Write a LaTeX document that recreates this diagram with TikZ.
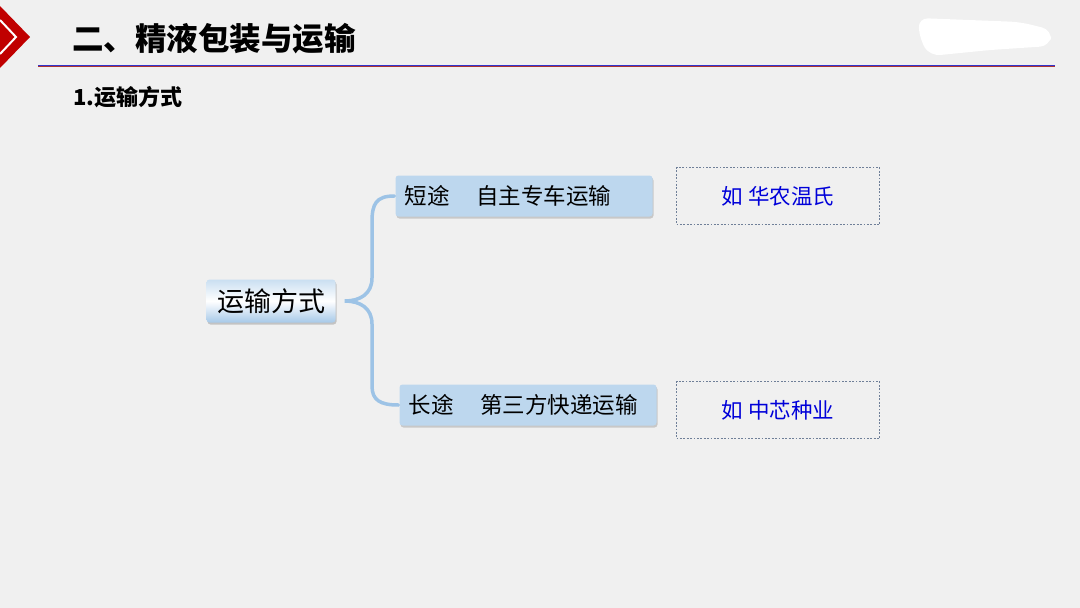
\documentclass[tikz,border=0pt]{standalone}
\usepackage{fontspec}
\usepackage{tikz}
\usetikzlibrary{positioning,calc,shadows}
\newfontfamily\cjk{Noto Sans CJK SC}
\definecolor{pagebg}{HTML}{F0F0F0}
\definecolor{boxblue}{HTML}{BDD7EE}
\definecolor{bracecol}{HTML}{9DC3E6}
\definecolor{dotcol}{HTML}{6F7F98}
\definecolor{markred}{HTML}{C00000}
\tikzstyle{branch}=[rectangle,rounded corners=3pt,fill=boxblue,text width=239pt,minimum height=41pt,
  inner xsep=9pt,inner ysep=0pt,align=left,font=\cjk\fontsize{22.5}{22.5}\selectfont,
  drop shadow={shadow xshift=1pt,shadow yshift=-2pt,opacity=0.35}]
\tikzstyle{example}=[rectangle,draw=dotcol,line width=1.8pt,dash pattern=on 1.8pt off 1.6pt,
  minimum width=203pt,minimum height=57pt,
  inner sep=0pt,text=blue!85!black,font=\cjk\fontsize{21.5}{21.5}\selectfont]

\begin{document}
\begin{tikzpicture}[x=1pt,y=-1pt]
    \useasboundingbox (0,0) rectangle (1080,608);
    \fill[pagebg] (0,0) rectangle (1080,608);
    % blob at top right
    \fill[white,rounded corners=10pt] (918,18) -- (1020,22) -- (1052,30) -- (1050,46) -- (990,50) -- (930,56) -- (920,40) -- cycle;
    % red marker
    \fill[markred] (0,6) -- (30,37) -- (0,68) -- cycle;
    \draw[white,line width=2pt] (0,20) -- (16,37) -- (0,54);
    \node [anchor=west,inner sep=0pt,font=\cjk\bfseries\fontsize{31.5}{31.5}\selectfont] (title) at (72,39) {二、精液包装与运输};
    \draw[line width=1pt,color=blue!60!gray] (38,65.3) -- (1055,65.3);
    \draw[line width=0.8pt,color=red!60!black!80] (38,66.8) -- (1055,66.8);
    \node [anchor=west,inner sep=0pt,font=\cjk\bfseries\fontsize{22}{22}\selectfont] (sub) at (73,97) {1.运输方式};

    \node [rectangle,rounded corners=3pt,minimum width=129pt,minimum height=43pt,inner sep=0pt,
      top color=boxblue!80,bottom color=bracecol!90,middle color=white,
      font=\cjk\fontsize{27}{27}\selectfont,
      drop shadow={shadow xshift=1pt,shadow yshift=-2pt,opacity=0.4}] (main) at (271,301) {运输方式};
    \node [branch] (short) at (524,196) {短途\hspace{1.2em}自主专车运输};
    \node [branch] (long) at (528,405) {长途\hspace{1.2em}第三方快递运输};
    \node [example] (eg1) at (778,196) {如\ 华农温氏};
    \node [example] (eg2) at (778,410) {如\ 中芯种业};

    \coordinate (tip) at ($(main.east)+(9,0)$);
    \draw[bracecol,line width=3.5pt,line cap=round]
      ([xshift=-1pt]short.west) .. controls (376,196) and (372,204) .. (372,222)
      -- (372,278) .. controls (372,294) and (360,301) .. (tip)
      .. controls (360,301) and (372,308) .. (372,324)
      -- (372,386) .. controls (372,400) and (380,405) .. ([xshift=-1pt]long.west);
\end{tikzpicture}
\end{document}
